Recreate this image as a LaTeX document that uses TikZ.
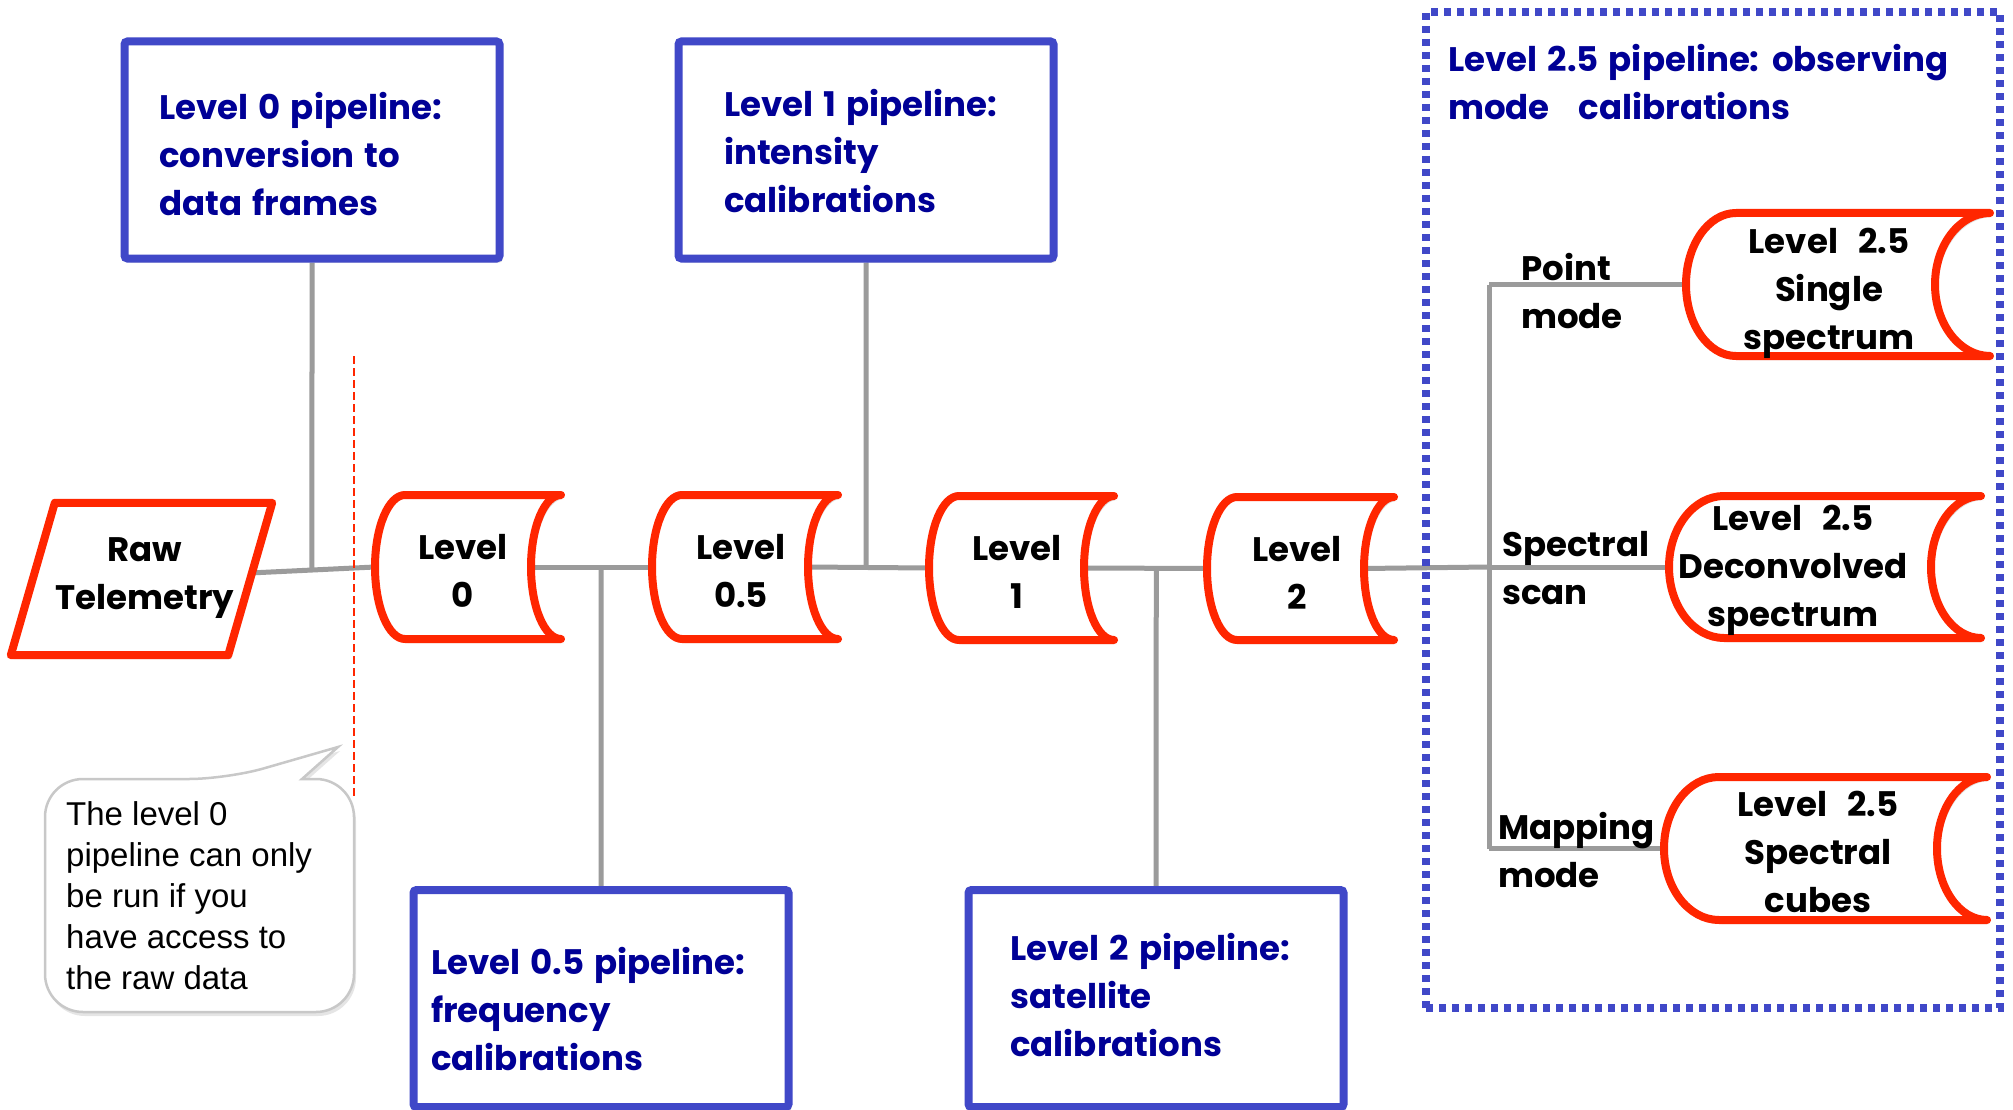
\documentclass[tikz,border=0pt]{standalone}
\usepackage{fontspec}
\setmainfont{Poppins}[WordSpace=1.4]
\newfontfamily\calloutfont{Liberation Sans}
\usetikzlibrary{calc,shadows}
\definecolor{boxblue}{RGB}{64,72,200}
\definecolor{txtblue}{RGB}{0,0,150}
\definecolor{drred}{RGB}{255,38,0}
\definecolor{conngray}{RGB}{155,155,155}
\definecolor{bubblegray}{RGB}{200,200,200}
\pgfdeclarelayer{background}
\pgfsetlayers{background,main}
\tikzset{
  conn/.style={draw=conngray, line width=5pt},
  pipebox/.style={draw=boxblue, line width=8pt, fill=white, rounded corners=3pt,
    minimum width=375pt, minimum height=217pt, inner sep=0pt,
    drop shadow={opacity=0.25, shadow xshift=3pt, shadow yshift=-4pt}},
  bluetxt/.style={text=txtblue, font=\bfseries\fontsize{34}{48}\selectfont, align=left, anchor=west, inner sep=0pt},
  blktxt/.style={text=black, font=\bfseries\fontsize{34}{48}\selectfont, align=center, inner sep=0pt},
  modetxt/.style={blktxt, align=left, anchor=west},
  drumline/.style={draw=drred, line width=8pt, fill=white, line join=round, line cap=round,
    drop shadow={opacity=0.25, shadow xshift=3pt, shadow yshift=-4pt}},
  drumnode/.style={draw=none, inner sep=0pt},
  bubble/.style={draw=bubblegray, line width=2.5pt, fill=white,
    drop shadow={opacity=0.2, shadow xshift=2pt, shadow yshift=-4pt}},
  grpbox/.style={draw=boxblue, line width=8pt, dash pattern=on 7pt off 6pt, inner sep=0pt},
  reddash/.style={draw=drred, line width=2.5pt, dash pattern=on 8pt off 4pt},
}
% name, xl, xr, yt, yb, dl, dr, text pos, text
\newcommand\drumshape[9]{%
  \pgfmathsetmacro\drXm{(#2+#3)/2}%
  \pgfmathsetmacro\drYm{(#4+#5)/2}%
  \pgfmathsetmacro\drHH{(#5-#4)/2*0.552}%
  \pgfmathsetmacro\drW{#3-#2}%
  \pgfmathsetmacro\drH{#5-#4}%
  \draw[drumline] (#3,#4) -- ({#2+#6},#4)
    .. controls ({#2+0.448*#6},#4) and (#2,{\drYm-\drHH}) .. (#2,\drYm)
    .. controls (#2,{\drYm+\drHH}) and ({#2+0.448*#6},#5) .. ({#2+#6},#5)
    -- (#3,#5)
    .. controls ({#3-0.552*#7},#5) and ({#3-#7},{\drYm+\drHH}) .. ({#3-#7},\drYm)
    .. controls ({#3-#7},{\drYm-\drHH}) and ({#3-0.552*#7},#4) .. (#3,#4) -- cycle;
  \node[drumnode, minimum width=\drW pt, minimum height=\drH pt] (#1) at (\drXm,\drYm) {};
  \coordinate (#1-r) at ({#3-#7},\drYm);
  \node[blktxt] (#1-t) at (#8) {#9};
}
\begin{document}
\begin{tikzpicture}[x=1pt,y=-1pt]
\useasboundingbox (0,0) rectangle (2013,1110);

% pipeline boxes
\node[pipebox] (b0) at (312,150) {};
\node[pipebox] (b1) at (866,150) {};
\node[pipebox] (b05) at (601,998.5) {};
\node[pipebox] (b2) at (1156,998.5) {};
\node[bluetxt] (b0t) at (159,154) {Level 0 pipeline:\\conversion to\\data frames};
\node[bluetxt] (b1t) at (724,151) {Level 1 pipeline:\\intensity\\calibrations};
\node[bluetxt] (b05t) at (431,1009) {Level 0.5 pipeline:\\frequency\\calibrations};
\node[bluetxt] (b2t) at (1010,995) {Level 2 pipeline:\\satellite\\calibrations};

% group box
\node[grpbox, minimum width=574pt, minimum height=996pt] (grp) at (1713,510) {};
\node[bluetxt] (gt) at (1448,82) {Level 2.5 pipeline: observing\\mode\hspace{0.55em} calibrations};

% raw telemetry
\node[drumnode, minimum width=217pt, minimum height=152pt] (raw) at (141.5,579) {};
\draw[drumline] ([xshift=22pt]raw.north west) -- ([xshift=22pt]raw.north east)
  -- ([xshift=-22pt]raw.south east) -- ([xshift=-22pt]raw.south west) -- cycle;
\node[blktxt] (raw-t) at (145,578) {Raw\\Telemetry};
\coordinate (rawout) at ([yshift=6pt]raw.east);

% level drums
\drumshape{l0}{375}{561}{495}{639}{30}{30}{463,571}{Level\\0}
\drumshape{l05}{652}{838}{495}{639}{30}{30}{741,571}{Level\\0.5}
\drumshape{l1}{929}{1114}{496}{640}{30}{30}{1017,572}{Level\\1}
\drumshape{l2}{1207}{1394}{497}{640}{30}{30}{1297,573}{Level\\2}
\drumshape{single}{1686}{1990}{213}{356}{50}{55}{1829,293}{Level\ \ 2.5\\Single\\spectrum}
\drumshape{deconv}{1669}{1981}{496}{638}{55}{50}{1793,570}{Level\ \ 2.5\\Deconvolved\\spectrum}
\drumshape{cubes}{1664}{1987}{777}{920}{55}{50}{1818,852}{Level\ \ 2.5\\Spectral\\cubes}

% mode labels
\node[modetxt] (pm) at (1521,291) {Point\\mode};
\node[modetxt] (ss) at (1502,568) {Spectral\\scan};
\node[modetxt] (mm) at (1498,850) {Mapping\\mode};

% callout
\draw[bubble] (45,900) [rounded corners=38pt] |- (227,779) [sharp corners] -- (338,747) -- (302,779)
  [rounded corners=38pt] -| (354,900) |- (45,1012) -- cycle;
\node[font=\calloutfont\fontsize{33}{41}\selectfont, align=left, anchor=west, inner sep=0pt] (note) at (66,896)
  {The level 0\\pipeline can only\\be run if you\\have access to\\the raw data};

% red dashed separator
\coordinate (dtop) at (354,356);
\coordinate (dbot) at (354,796);
\draw[reddash] (dtop) -- (dbot);

\coordinate (vx) at (1489,567);

\begin{pgfonlayer}{background}
\fill[white] (0,0) rectangle (2013,1110);
\draw[conn] (rawout) -- (l0.west);
\draw[conn] (b0.south) -- (intersection of rawout--l0.west and b0.south--b0.center);
\draw[conn] (l0-r) -- (l05.west);
\draw[conn] (b05.north) -- (intersection of l0-r--l05.west and b05.north--b05.center);
\draw[conn] (l05-r) -- (l1.west);
\draw[conn] (b1.south) -- (intersection of l05-r--l1.west and b1.south--b1.center);
\draw[conn] (l1-r) -- (l2.west);
\draw[conn] (b2.north) -- (intersection of l1-r--l2.west and b2.north--b2.center);
\draw[conn] (l2-r) -- (vx);
\draw[conn] (vx) -- (deconv.west);
\draw[conn] (single.west -| vx) -- (cubes.west -| vx);
\draw[conn] (single.west -| vx) -- (single.west);
\draw[conn] (cubes.west -| vx) -- (cubes.west);
\end{pgfonlayer}
\end{tikzpicture}
\end{document}
